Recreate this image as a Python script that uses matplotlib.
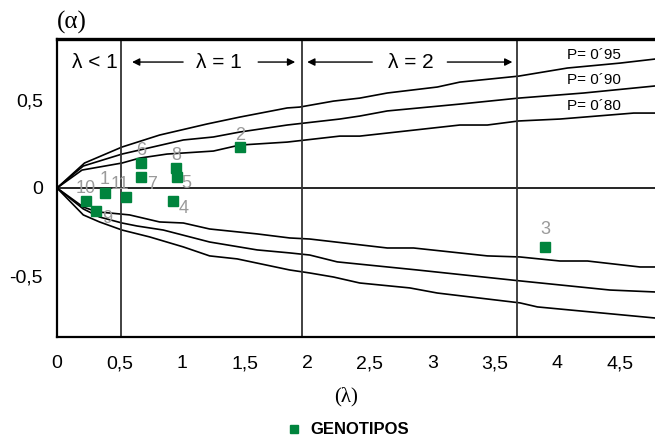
import matplotlib
matplotlib.use("Agg")
import matplotlib.pyplot as plt
from matplotlib import font_manager

names = {f.name for f in font_manager.fontManager.ttflist}
sans = 'Liberation Sans Narrow' if 'Liberation Sans Narrow' in names else 'Liberation Sans'
serif = 'Liberation Serif' if 'Liberation Serif' in names else 'DejaVu Serif'
plt.rcParams['font.family'] = [sans, 'DejaVu Sans']

# confidence curves (upper branch)
up95_x = [0, 0.22, 0.52, 0.82, 1.20, 1.46, 1.84, 1.94, 2.21, 2.42, 2.64, 3.04, 3.22, 3.69, 4.08, 4.50, 4.78]
up95_y = [0, 0.142, 0.233, 0.301, 0.364, 0.403, 0.455, 0.46, 0.494, 0.511, 0.540, 0.574, 0.602, 0.636, 0.682, 0.710, 0.733]
up90_x = [0, 0.21, 0.52, 1.01, 1.25, 1.46, 1.84, 2.26, 2.42, 2.64, 3.22, 3.69, 4.21, 4.78]
up90_y = [0, 0.125, 0.193, 0.273, 0.290, 0.318, 0.358, 0.392, 0.409, 0.438, 0.477, 0.511, 0.540, 0.580]
up80_x = [0, 0.20, 0.52, 0.66, 0.88, 1.25, 1.46, 1.84, 2.26, 2.42, 3.22, 3.44, 3.69, 4.02, 4.61, 4.78]
up80_y = [0, 0.102, 0.142, 0.170, 0.193, 0.210, 0.244, 0.261, 0.295, 0.295, 0.358, 0.358, 0.381, 0.392, 0.426, 0.426]

# lower branch
lo80_x = [0, 0.21, 0.32, 0.42, 0.58, 0.82, 1.01, 1.22, 1.60, 1.86, 2.02, 2.64, 2.85, 3.44, 3.70, 4.02, 4.24, 4.66, 4.78]
lo80_y = [0, -0.108, -0.136, -0.142, -0.153, -0.193, -0.199, -0.233, -0.261, -0.284, -0.290, -0.341, -0.341, -0.386, -0.392, -0.415, -0.415, -0.449, -0.449]
lo90_x = [0, 0.21, 0.34, 0.52, 0.64, 0.85, 1.22, 1.60, 1.86, 2.02, 2.24, 2.88, 3.70, 4.42, 4.78]
lo90_y = [0, -0.119, -0.165, -0.199, -0.216, -0.239, -0.307, -0.352, -0.369, -0.381, -0.420, -0.466, -0.528, -0.580, -0.591]
lo95_x = [0, 0.21, 0.34, 0.52, 0.74, 1.01, 1.22, 1.44, 1.86, 2.02, 2.21, 2.42, 2.82, 3.04, 3.70, 3.84, 4.78]
lo95_y = [0, -0.153, -0.193, -0.239, -0.278, -0.335, -0.386, -0.403, -0.466, -0.483, -0.506, -0.540, -0.568, -0.597, -0.653, -0.676, -0.739]

# genotypes
gen_lab = ['1', '2', '3', '4', '5', '6', '7', '8', '9', '10', '11']
gen_x = [0.38, 1.46, 3.90, 0.93, 0.96, 0.67, 0.67, 0.95, 0.31, 0.23, 0.55]
gen_y = [-0.027, 0.231, -0.333, -0.074, 0.061, 0.140, 0.062, 0.112, -0.131, -0.074, -0.050]
# label offsets (pixels)
lab_off = {'1': (0, 13), '2': (0, 12), '3': (0, 17), '4': (10, -7), '5': (9, -6),
           '6': (0, 13), '7': (11, -7), '8': (0, 13), '9': (11, -7), '10': (0, 13), '11': (-6, 12)}

vlines = [0.51, 1.96, 3.68]
xticks = [0, 0.5, 1, 1.5, 2, 2.5, 3, 3.5, 4, 4.5]
yticks = [-0.5, 0, 0.5]

fig = plt.figure(figsize=(6.55, 4.38), dpi=100)
ax = fig.add_axes([57/655, 1-337/438, 1-57/655, 298/438])

for xs, ys in [(up95_x, up95_y), (up90_x, up90_y), (up80_x, up80_y),
               (lo80_x, lo80_y), (lo90_x, lo90_y), (lo95_x, lo95_y)]:
    ax.plot(xs, ys, color='black', lw=1.2, solid_joinstyle='round')

ax.axhline(0, color='black', lw=1.2)
for v in vlines:
    ax.axvline(v, color='#333333', lw=1.3)

green = '#00843D'
pts, = ax.plot(gen_x, gen_y, 's', color=green, markersize=7.3, linestyle='none', label='GENOTIPOS', zorder=5)
for l, x, y in zip(gen_lab, gen_x, gen_y):
    ax.annotate(l, (x, y), xytext=lab_off[l], textcoords='offset pixels',
                ha='center', va='center', color='#9a9a9a', fontsize=13)

# region labels
ylab = 0.716
ax.text(0.30, ylab, 'λ < 1', ha='center', va='center', fontsize=15)
ax.text(1.296, ylab, 'λ = 1', ha='center', va='center', fontsize=15)
ax.text(2.83, ylab, 'λ = 2', ha='center', va='center', fontsize=15)
arr = dict(arrowstyle='-|>', color='black', lw=1.0, mutation_scale=11, shrinkA=0, shrinkB=0)
for start, tip in [(1.008, 0.60), (1.608, 1.904), (2.52, 2.00), (3.12, 3.64)]:
    ax.annotate('', xy=(tip, ylab), xytext=(start, ylab), arrowprops=arr)

ax.text(4.08, 0.756, 'P= 0´95', ha='left', va='center', fontsize=11)
ax.text(4.08, 0.614, 'P= 0´90', ha='left', va='center', fontsize=11)
ax.text(4.08, 0.466, 'P= 0´80', ha='left', va='center', fontsize=11)

ax.set_xlim(0, 4.78)
ax.set_ylim(-0.847, 0.847)
ax.set_xticks(xticks)
ax.set_xticklabels(['0', '0,5', '1', '1,5', '2', '2,5', '3', '3,5', '4', '4,5'])
ax.set_yticks(yticks)
ax.set_yticklabels(['-0,5', '0', '0,5'])
ax.tick_params(axis='both', length=0, labelsize=14)
ax.tick_params(axis='x', pad=13)
ax.tick_params(axis='y', pad=10)

ax.spines['right'].set_visible(False)
for s in ['left', 'bottom']:
    ax.spines[s].set_linewidth(1.6)
ax.spines['top'].set_linewidth(2.4)

fig.text(72/655, 1-22/438, '(α)', ha='center', va='center', fontsize=18, family=serif)
fig.text(346/655, 1-397/438, '(λ)', ha='center', va='center', fontsize=15, family=serif)

fig.legend(handles=[pts], loc='center', bbox_to_anchor=(348/655, 1-430/438), frameon=False,
           markerscale=0.7, handlelength=0.8, handletextpad=0.6, borderpad=0.2,
           prop={'weight': 'bold', 'size': 12})

fig.savefig('out.png', dpi=100)
